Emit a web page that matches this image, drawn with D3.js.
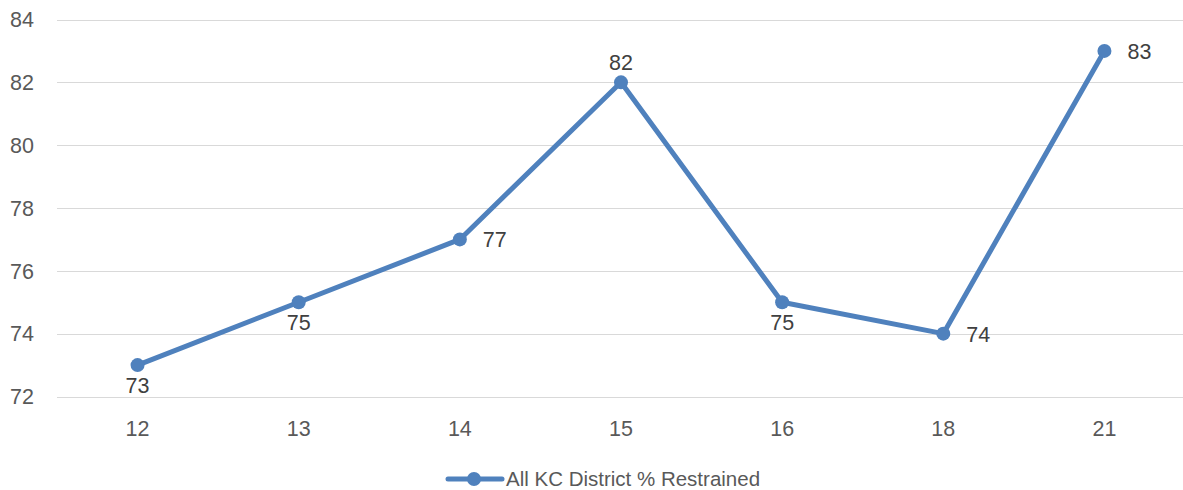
<!DOCTYPE html>
<html lang="en">
  <head>
    <meta charset="utf-8" />
    <script src="https://d3js.org/d3.v7.min.js"></script>
    <style>
      body { margin: 0; background: #fff; }
      svg { font-family: "Liberation Sans", "DejaVu Sans", sans-serif; }
    </style>
  </head>
  <body>
    <svg id="chart" width="1183" height="490"></svg>
    <script>
      const categories = ["12", "13", "14", "15", "16", "18", "21"];
      const values = [73, 75, 77, 82, 75, 74, 83];
      // where each data label sits relative to its point
      const labelPos = ["below", "below", "right", "above", "below", "right", "right"];
      const yTicks = [72, 74, 76, 78, 80, 82, 84];
      const seriesName = "All KC District % Restrained";

      const lineColor = "#4f81bd";
      const svg = d3.select("#chart");
      const plotLeft = 57, plotRight = 1185, plotTop = 19.5, plotBottom = 396.5;

      const x = d3.scaleBand().domain(categories).range([plotLeft, plotRight]);
      const y = d3.scaleLinear().domain([72, 84]).range([plotBottom, plotTop]);

      // gridlines
      svg.append("g")
        .selectAll("line")
        .data(yTicks)
        .join("line")
        .attr("x1", plotLeft)
        .attr("x2", 1183)
        .attr("y1", d => Math.round(y(d)) + 0.5)
        .attr("y2", d => Math.round(y(d)) + 0.5)
        .attr("stroke", "#d9d9d9")
        .attr("stroke-width", 1);

      // y labels
      svg.append("g")
        .selectAll("text")
        .data(yTicks)
        .join("text")
        .attr("x", 34)
        .attr("y", d => y(d))
        .attr("dy", "0.36em")
        .attr("text-anchor", "end")
        .attr("font-size", 21.5)
        .attr("fill", "#595959")
        .text(d => d);

      // x labels
      svg.append("g")
        .selectAll("text")
        .data(categories)
        .join("text")
        .attr("x", d => x(d) + x.bandwidth() / 2)
        .attr("y", 436)
        .attr("text-anchor", "middle")
        .attr("font-size", 21.5)
        .attr("fill", "#595959")
        .text(d => d);

      const cx = (d, i) => x(categories[i]) + x.bandwidth() / 2;

      const line = d3.line()
        .x((d, i) => cx(d, i))
        .y(d => y(d));

      svg.append("path")
        .datum(values)
        .attr("d", line)
        .attr("fill", "none")
        .attr("stroke", lineColor)
        .attr("stroke-width", 5)
        .attr("stroke-linejoin", "round");

      svg.append("g")
        .selectAll("circle")
        .data(values)
        .join("circle")
        .attr("cx", cx)
        .attr("cy", d => y(d))
        .attr("r", 7)
        .attr("fill", lineColor);

      // data labels
      svg.append("g")
        .selectAll("text")
        .data(values)
        .join("text")
        .attr("x", (d, i) => labelPos[i] === "right" ? cx(d, i) + 23 : cx(d, i))
        .attr("y", (d, i) => {
          if (labelPos[i] === "below") return y(d) + 28;
          if (labelPos[i] === "above") return y(d) - 12;
          return y(d) + 8;
        })
        .attr("text-anchor", (d, i) => labelPos[i] === "right" ? "start" : "middle")
        .attr("font-size", 21.5)
        .attr("fill", "#404040")
        .text(d => d);

      // legend
      const lg = svg.append("g");
      lg.append("line")
        .attr("x1", 448).attr("x2", 502)
        .attr("y1", 479).attr("y2", 479)
        .attr("stroke", lineColor)
        .attr("stroke-width", 5)
        .attr("stroke-linecap", "round");
      lg.append("circle")
        .attr("cx", 474).attr("cy", 479).attr("r", 7)
        .attr("fill", lineColor);
      lg.append("text")
        .attr("x", 506).attr("y", 486)
        .attr("font-size", 20.5)
        .attr("fill", "#595959")
        .text(seriesName);
    </script>
  </body>
</html>
